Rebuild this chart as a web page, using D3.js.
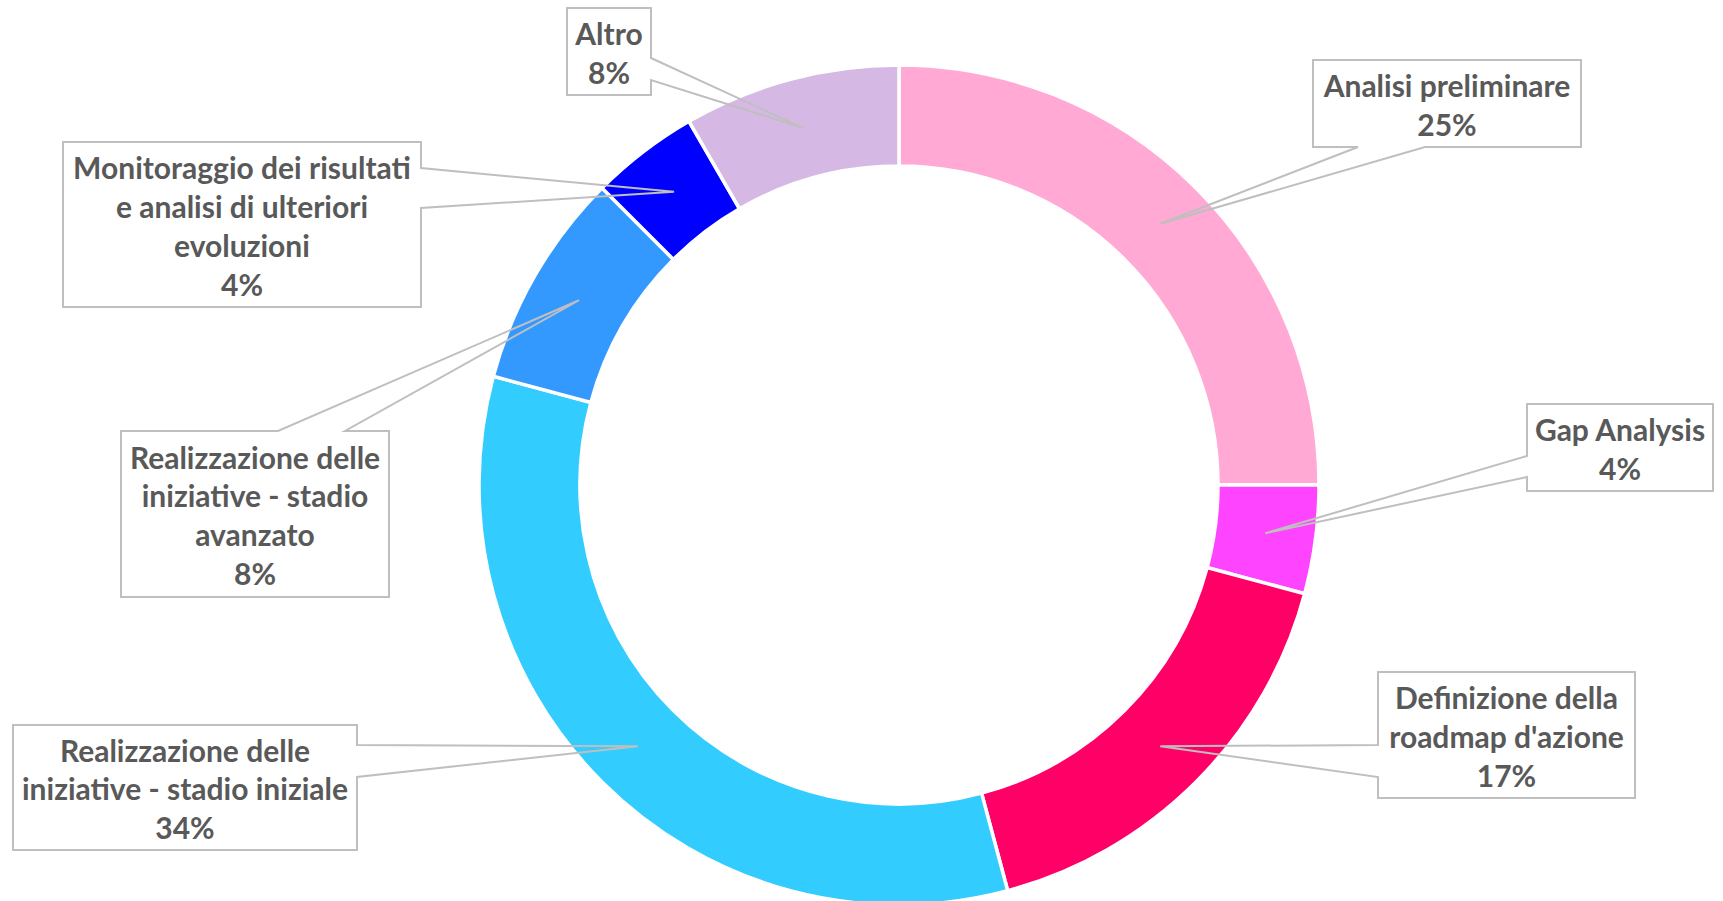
<!DOCTYPE html>
<html>
<head>
<meta charset="utf-8">
<script src="https://cdn.jsdelivr.net/npm/d3@7/dist/d3.min.js"></script>
<style>
  html, body { margin: 0; padding: 0; background: #fff; }
  svg { display: block; }
</style>
</head>
<body>
<svg id="chart" width="1723" height="901"></svg>
<script>
// ---- data ----
const categories = [
  "Analisi preliminare",
  "Gap Analysis",
  "Definizione della roadmap d'azione",
  "Realizzazione delle iniziative - stadio iniziale",
  "Realizzazione delle iniziative - stadio avanzato",
  "Monitoraggio dei risultati e analisi di ulteriori evoluzioni",
  "Altro"
];
const counts = [6, 1, 4, 8, 2, 1, 2];
const pctLabels = ["25%", "4%", "17%", "34%", "8%", "4%", "8%"];
const labelLines = [
  ["Analisi preliminare"],
  ["Gap Analysis"],
  ["Definizione della", "roadmap d'azione"],
  ["Realizzazione delle", "iniziative - stadio iniziale"],
  ["Realizzazione delle", "iniziative - stadio", "avanzato"],
  ["Monitoraggio dei risultati", "e analisi di ulteriori", "evoluzioni"],
  ["Altro"]
];
const colors = ["#FFA9D4", "#FF44FF", "#FF0066", "#33CCFF", "#3399FF", "#0000FF", "#D5B9E4"];

// ---- layout (callout boxes: x0,y0,x1,y1, attachment side, two anchor coords on that side) ----
const callouts = [
  {x0: 1313, y0: 60,  x1: 1581, y1: 147, side: "bottom", a1: 1358, a2: 1425},
  {x0: 1527, y0: 404, x1: 1713, y1: 491, side: "left",   a1: 456,  a2: 477},
  {x0: 1378, y0: 672, x1: 1635, y1: 798, side: "left",   a1: 745,  a2: 777},
  {x0: 13,   y0: 725, x1: 357,  y1: 850, side: "right",  a1: 745,  a2: 777},
  {x0: 121,  y0: 431, x1: 389,  y1: 597, side: "top",    a1: 278,  a2: 345},
  {x0: 63,   y0: 142, x1: 421,  y1: 307, side: "right",  a1: 168,  a2: 208},
  {x0: 567,  y0: 8,   x1: 651,  y1: 95,  side: "right",  a1: 58,   a2: 80}
];

const cx = 899, cy = 485, R = 420, r = 319;
const svg = d3.select("#chart");
const g = svg.append("g").attr("transform", `translate(${cx},${cy})`);

const pie = d3.pie().sort(null).value(d => d.v);
const data = pie(counts.map((v, i) => ({v, i})));
const arc = d3.arc().innerRadius(r).outerRadius(R);
const tipArc = d3.arc().innerRadius((R + r) / 2).outerRadius((R + r) / 2);

g.selectAll("path.slice").data(data).join("path")
  .attr("class", "slice")
  .attr("d", arc)
  .attr("fill", d => colors[d.data.i])
  .attr("stroke", "#fff")
  .attr("stroke-width", 3.5)
  .attr("stroke-linejoin", "miter");

// font sizing: fit "Analisi preliminare" to ~248px
const FONT = "Lato, 'Open Sans', sans-serif";
const probe = svg.append("text").attr("font-family", FONT).attr("font-weight", 700)
  .attr("font-size", 100).text("Analisi preliminare");
const w100 = probe.node().getComputedTextLength();
probe.remove();
const fs = Math.min(30, 100 * 250 / w100);
const lh = 38.8;

const lg = svg.append("g");
data.forEach(d => {
  const i = d.data.i;
  const c = callouts[i];
  const [tx0, ty0] = tipArc.centroid(d);
  const tx = tx0 + cx, ty = ty0 + cy;
  let p;
  if (c.side === "right") {
    p = `M${c.x0},${c.y0}H${c.x1}V${c.a1}L${tx},${ty}L${c.x1},${c.a2}V${c.y1}H${c.x0}Z`;
  } else if (c.side === "left") {
    p = `M${c.x0},${c.y0}H${c.x1}V${c.y1}H${c.x0}V${c.a2}L${tx},${ty}L${c.x0},${c.a1}Z`;
  } else if (c.side === "top") {
    p = `M${c.x0},${c.y0}H${c.a1}L${tx},${ty}L${c.a2},${c.y0}H${c.x1}V${c.y1}H${c.x0}Z`;
  } else {
    p = `M${c.x0},${c.y0}H${c.x1}V${c.y1}H${c.a2}L${tx},${ty}L${c.a1},${c.y1}H${c.x0}Z`;
  }
  lg.append("rect").attr("x", c.x0).attr("y", c.y0)
    .attr("width", c.x1 - c.x0).attr("height", c.y1 - c.y0).attr("fill", "#fff");
  lg.append("path").attr("d", p).attr("fill", "none")
    .attr("stroke", "#BFBFBF").attr("stroke-width", 2).attr("stroke-linejoin", "miter");

  const lines = labelLines[i].concat([pctLabels[i]]);
  const n = lines.length;
  const mx = (c.x0 + c.x1) / 2, my = (c.y0 + c.y1) / 2;
  const t = lg.append("text")
    .attr("font-family", FONT).attr("font-weight", 700).attr("font-size", fs)
    .attr("fill", "#595959").attr("text-anchor", "middle");
  lines.forEach((ln, k) => {
    t.append("tspan").attr("x", mx)
      .attr("y", my + (k - (n - 1) / 2) * lh + fs * 0.36 + 2)
      .text(ln);
  });
});
</script>
</body>
</html>
